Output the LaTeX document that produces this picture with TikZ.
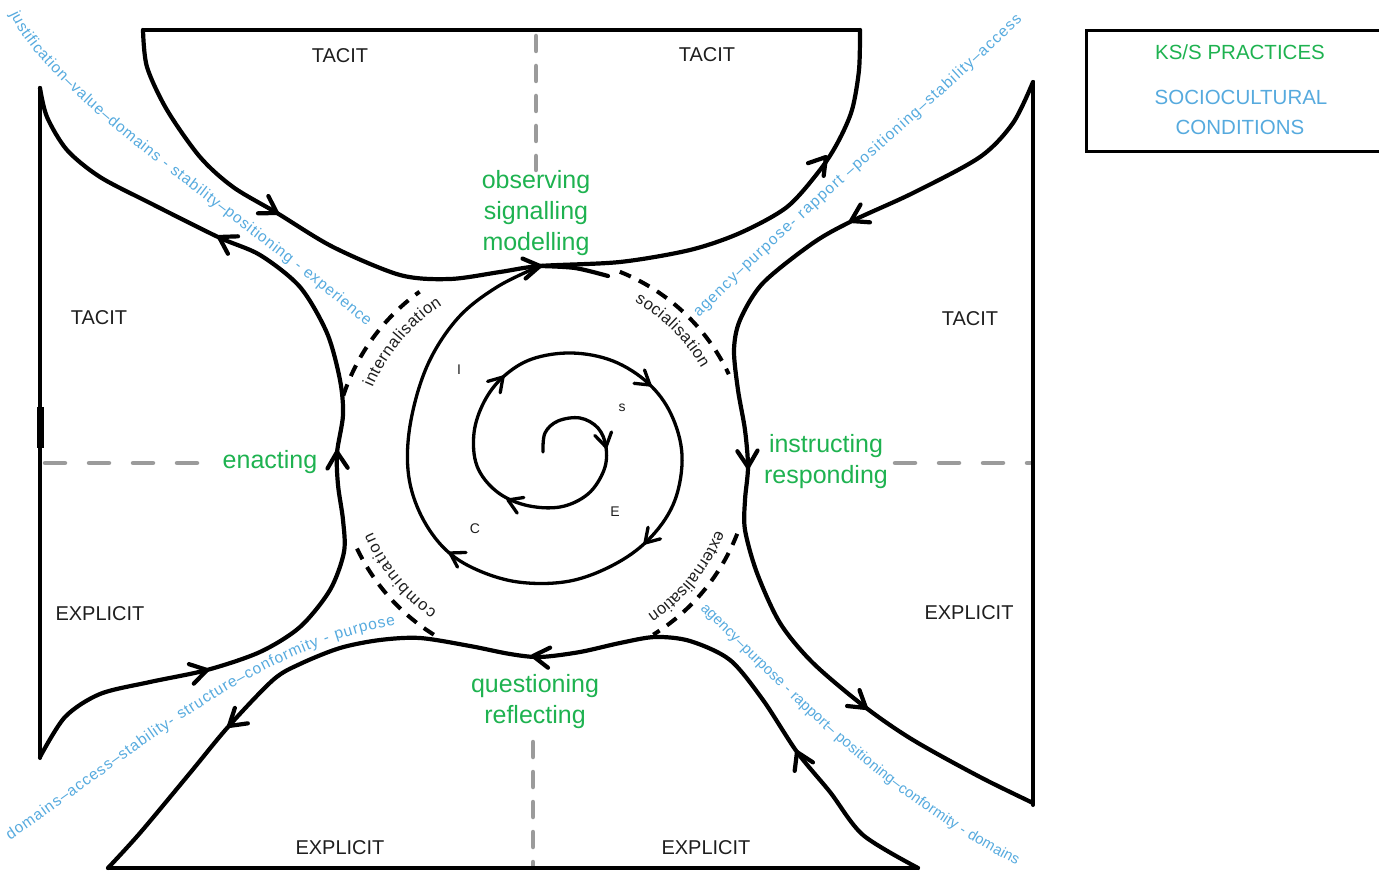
\documentclass[tikz,border=0pt]{standalone}
\usepackage{fontspec}
\setmainfont{Liberation Sans}
\usetikzlibrary{decorations.text}
\definecolor{kgreen}{RGB}{30,178,80}
\definecolor{scblue}{RGB}{86,170,222}
\definecolor{txtdark}{RGB}{30,30,30}
\definecolor{guide}{RGB}{155,155,155}
\newcommand\chev[4]{\draw[chevline] (#1,#2) ++(#3+148:#4) -- (#1,#2) -- ++(#3-148:#4);}
\newcommand\schev[4]{\draw[schevline] (#1,#2) ++(#3+148:#4) -- (#1,#2) -- ++(#3-148:#4);}
\newcommand\bluefmt{\fontsize{15.5}{16}\selectfont\color{scblue}}
\newcommand\bluefmtsmall{\fontsize{14.8}{16}\selectfont\color{scblue}}
\newcommand\arcfmt{\fontsize{16.5}{17}\selectfont\color{txtdark}}
\begin{document}
\begin{tikzpicture}[x=1pt,y=-1pt,
  flowline/.style={line width=4.2pt, line cap=round, line join=round},
  borderline/.style={line width=4pt, line cap=round, line join=round},
  spiralline/.style={line width=3.3pt, line cap=round, line join=round},
  chevline/.style={line width=4.2pt, line cap=round, line join=round},
  schevline/.style={line width=3.3pt, line cap=round, line join=round},
  arcdash/.style={line width=4pt, dash pattern=on 12pt off 9pt},
  guidev/.style={line width=4.5pt, guide, dash pattern=on 15pt off 15pt, line cap=round},
  guideh/.style={line width=4.5pt, guide, dash pattern=on 20pt off 24pt, line cap=round},
  regiontext/.style={font=\fontsize{20}{24}\selectfont, text=txtdark},
  practicetext/.style={font=\fontsize{25}{31}\selectfont, text=kgreen, align=center},
  spiraltext/.style={font=\fontsize{14}{16}\selectfont, text=txtdark},
  legendtext/.style={font=\fontsize{20.5}{24}\selectfont}
]
\useasboundingbox (0,0) rectangle (1379,874);

% ---- guide lines (grey dashed)
\draw[guidev] (536,36) -- (536,170);
\draw[guidev] (533,742) -- (533,866);
\draw[guideh] (45,463) -- (208,463);
\draw[guideh] (895,463) -- (1030,463);

% ---- straight borders
\draw[borderline] (143,30) -- (860,30);
\draw[borderline] (108,868) -- (918,868);
\draw[borderline] (40,88) -- (40,758);
\draw[line width=7pt] (40,407) -- (40,448);
\draw[borderline] (1033,82) -- (1033,805);

% ---- top shape inner edge
\draw[flowline] plot[smooth] coordinates {(143,30) (147,67) (167,110) (200,157) (233,187) (277,213) (333,247) (400,275) (450,279) (500,272) (540,266) (620,262) (690,250) (740,233) (787,207) (820,170) (838,142) (852,110) (859,70) (860,30)};
% ---- right shape inner edge
\draw[flowline] plot[smooth] coordinates {(1033,82) (1013,123) (980,157) (913,193) (852,221) (813,243) (763,283) (740,320) (734,350) (738,390) (745,430) (748,467) (745,500) (745,530) (757,573) (780,623) (813,663) (865,707) (913,740) (980,777) (1033,803)};
% ---- bottom shape inner edge
\draw[flowline] plot[smooth] coordinates {(108,868) (140,833) (190,773) (228,727) (273,680) (300,664) (340,648) (380,640) (420,638) (470,646) (510,654) (540,657) (580,652) (620,643) (655,637) (690,641) (730,660) (763,700) (797,752) (830,792) (863,835) (918,868)};
% ---- left shape inner edge
\draw[flowline] plot[smooth] coordinates {(40,88) (47,117) (67,150) (100,177) (150,203) (218,237) (260,255) (300,287) (327,333) (340,380) (343,415) (337,453) (338,485) (343,520) (344,552) (330,590) (300,627) (260,652) (207,670) (150,682) (100,694) (65,717) (40,757)};

% ---- dashed circle arcs
\draw[arcdash] plot[smooth, domain=198:234, samples=25] ({543+210*cos(\x)},{460+208*sin(\x)});
\draw[flowline] plot[smooth] coordinates {(540,266) (575,268) (608,276)};
\draw[arcdash] plot[smooth, domain=292:335, samples=25] ({543+205*cos(\x)},{460+203*sin(\x)});
\draw[arcdash] plot[smooth, domain=21:58, samples=25] ({543+208*cos(\x)},{460+206*sin(\x)});
\draw[arcdash] plot[smooth, domain=122:157, samples=25] ({543+206*cos(\x)},{460+206*sin(\x)});

% ---- arc labels (canvas arcs, clockwise on screen)
\path[decorate, decoration={text along path, text align={fit to path}, text={|\arcfmt|internalisation}}] (543,460) ++(-203:185pt) arc[start angle=-203, end angle=-237, radius=185pt];
\path[decorate, decoration={text along path, text align={fit to path}, text={|\arcfmt|socialisation}}] (543,460) ++(-300:183pt) arc[start angle=-300, end angle=-330, radius=183pt];
\path[decorate, decoration={text along path, text align={fit to path}, text={|\arcfmt|externalisation}}] (543,460) ++(-22:187pt) arc[start angle=-22, end angle=-56, radius=187pt];
\path[decorate, decoration={text along path, text align={fit to path}, text={|\arcfmt|combination}}] (543,460) ++(-125:185pt) arc[start angle=-125, end angle=-157, radius=185pt];

% ---- spiral
\draw[spiralline] plot[smooth, tension=0.6] coordinates {(543,452) (545,433) (558,421) (580,418) (598,428) (606,447) (604,470) (588,494) (560,507) (525,505) (496,491) (477,466) (474,433) (484,402) (503,377) (532,359) (572,353) (613,361) (648,383) (671,414) (682,455) (675,500) (652,536) (617,563) (570,581) (518,582) (473,568) (442,546) (419,511) (408,470) (411,420) (428,364) (458,318) (497,287) (540,266)};

% ---- arrow heads on flows
\chev{277}{213}{31}{19}
\chev{540}{266}{-9}{19}
\chev{826}{157}{-51}{19}
\chev{851}{221}{152}{19}
\chev{748}{467}{88}{19}
\chev{866}{708}{38}{19}
\chev{797}{752}{245}{19}
\chev{533}{656}{186}{19}
\chev{229}{726}{140}{19}
\chev{207}{670}{-14}{19}
\chev{337}{452}{268}{19}
\chev{219}{237}{210}{19}
% ---- arrow heads on spiral
\schev{606}{447}{78}{16}
\schev{508}{500}{203}{16}
\schev{503}{377}{-48}{16}
\schev{650}{385}{38}{16}
\schev{645}{543}{133}{16}
\schev{450}{553}{210}{16}

% ---- sociocultural conditions (diagonal)
\path[decorate, decoration={text along path, text align={fit to path}, text={|\bluefmt|justification–value–domains - stability–positioning - experience}}] (10,14) .. controls (50,100) and (230,210) .. (366,326);
\path[decorate, decoration={text along path, text align={fit to path}, text={|\bluefmt|agency–purpose- rapport –positioning–stability–access}}] (699,318) .. controls (800,215) and (920,120) .. (1022,20);
\path[decorate, decoration={text along path, text align={fit to path}, text={|\bluefmt|domains–access–stability- structure–conformity - purpose}}] (10,840) .. controls (130,760) and (250,650) .. (395,625);
\path[decorate, decoration={text along path, text align={fit to path}, text={|\bluefmtsmall|agency–purpose - rapport– positioning–conformity - domains}}] (700,609) .. controls (790,697) and (880,795) .. (1016,865);

% ---- region labels
\node[regiontext] (tacitA) at (340,56) {TACIT};
\node[regiontext] (tacitB) at (707,55) {TACIT};
\node[regiontext] (tacitC) at (99,318) {TACIT};
\node[regiontext] (tacitD) at (970,319) {TACIT};
\node[regiontext] (explA) at (100,614) {EXPLICIT};
\node[regiontext] (explB) at (969,613) {EXPLICIT};
\node[regiontext] (explC) at (340,848) {EXPLICIT};
\node[regiontext] (explD) at (706,848) {EXPLICIT};

% ---- practices
\node[practicetext] (pTop) at (536,213) {observing\\signalling\\modelling};
\node[practicetext] (pLeft) at (270,462) {enacting};
\node[practicetext] (pRight) at (826,462) {instructing\\responding};
\node[practicetext] (pBottom) at (535,702) {questioning\\reflecting};

% ---- spiral letters
\node[spiraltext] (sI) at (459,370) {I};
\node[spiraltext] (sS) at (622,408) {s};
\node[spiraltext] (sE) at (615,512) {E};
\node[spiraltext] (sC) at (475,529) {C};

% ---- legend
\draw[line width=3pt] (1379,31) -- (1086,31) -- (1086,152) -- (1379,152);
\node[legendtext, text=kgreen] (legA) at (1240,52) {KS/S PRACTICES};
\node[legendtext, text=scblue] (legB) at (1241,97) {SOCIOCULTURAL};
\node[legendtext, text=scblue] (legC) at (1240,127) {CONDITIONS};
\end{tikzpicture}
\end{document}
